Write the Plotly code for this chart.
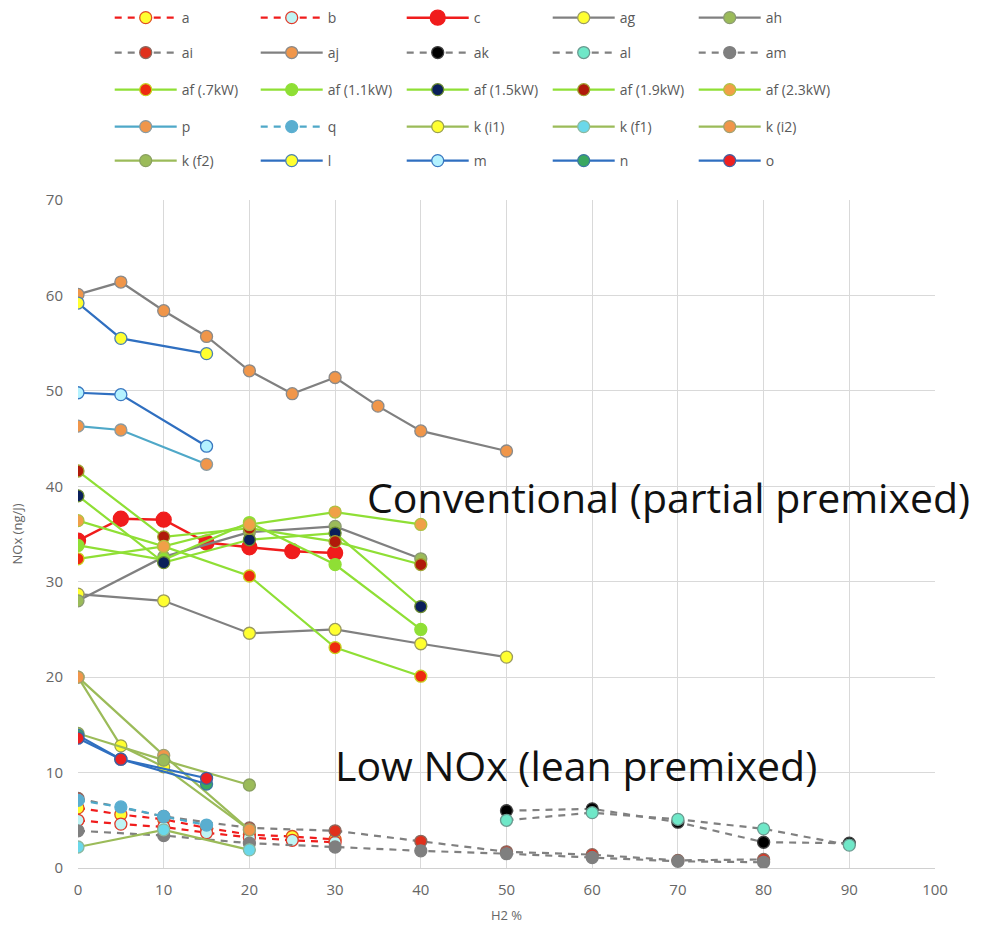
import plotly.graph_objects as go

# ---------------- data ----------------
a_x = [0, 5, 10, 15, 20, 25, 30]
a_y = [6.3, 5.6, 5.1, 4.2, 3.5, 3.3, 3.0]
b_x = [0, 5, 10, 15, 20, 25, 30]
b_y = [5.0, 4.6, 4.3, 3.7, 3.2, 2.9, 2.7]
c_x = [0, 5, 10, 15, 20, 25, 30]
c_y = [34.3, 36.6, 36.5, 34.1, 33.6, 33.2, 33.0]
ag_x = [0, 10, 20, 30, 40, 50]
ag_y = [28.7, 28.0, 24.6, 25.0, 23.5, 22.1]
ah_x = [0, 10, 20, 30, 40]
ah_y = [28.0, 32.6, 35.2, 35.8, 32.4]
ai_x = [0, 10, 20, 30, 40, 50, 60, 70, 80]
ai_y = [7.3, 5.4, 4.2, 3.9, 2.8, 1.7, 1.4, 0.8, 0.9]
aj_x = [0, 5, 10, 15, 20, 25, 30, 35, 40, 50]
aj_y = [60.1, 61.4, 58.4, 55.7, 52.1, 49.7, 51.4, 48.4, 45.8, 43.7]
ak_x = [50, 60, 70, 80, 90]
ak_y = [6.0, 6.2, 4.8, 2.7, 2.6]
al_x = [50, 60, 70, 80, 90]
al_y = [5.0, 5.8, 5.1, 4.1, 2.4]
am_x = [0, 10, 20, 30, 40, 50, 60, 70, 80]
am_y = [3.9, 3.4, 2.6, 2.2, 1.8, 1.5, 1.1, 0.7, 0.6]
af07_x = [0, 10, 20, 30, 40]
af07_y = [32.4, 33.7, 30.6, 23.1, 20.1]
af11_x = [0, 10, 20, 30, 40]
af11_y = [33.8, 32.3, 36.2, 31.8, 25.0]
af15_x = [0, 10, 20, 30, 40]
af15_y = [39.0, 32.0, 34.4, 35.1, 27.4]
af19_x = [0, 10, 20, 30, 40]
af19_y = [41.6, 34.7, 35.6, 34.2, 31.8]
af23_x = [0, 10, 20, 30, 40]
af23_y = [36.4, 33.7, 36.0, 37.3, 36.0]
p_x = [0, 5, 15]
p_y = [46.3, 45.9, 42.3]
q_x = [0, 5, 10, 15]
q_y = [7.1, 6.4, 5.4, 4.5]
ki1_x = [0, 5, 10, 20]
ki1_y = [20.0, 12.8, 10.6, 4.0]
kf1_x = [0, 10, 20]
kf1_y = [2.2, 4.0, 1.9]
ki2_x = [0, 10, 20]
ki2_y = [20.0, 11.8, 4.0]
kf2_x = [0, 10, 20]
kf2_y = [14.1, 11.3, 8.7]
l_x = [0, 5, 15]
l_y = [59.2, 55.5, 53.9]
m_x = [0, 5, 15]
m_y = [49.8, 49.6, 44.2]
n_x = [0, 5, 15]
n_y = [13.9, 11.4, 8.8]
o_x = [0, 5, 15]
o_y = [13.6, 11.4, 9.4]

x_ticks = list(range(0, 101, 10))
y_ticks = list(range(0, 71, 10))

# ---------------- styles ----------------
RED = "#f01c1c"
GRAY = "#808080"
LIME = "#8fdf35"
BLUE = "#2f6fc0"
TEAL = "#4fa8c8"
OLIVE = "#9bbb59"
DASH = "7px,6px"

fig = go.Figure()


def add(name, x, y, line_color, fill, outline, dash="solid", legend="legend",
        size=12, width=2.2):
    fig.add_trace(go.Scatter(
        x=x, y=y, name=name, mode="lines+markers",
        line=dict(color=line_color, width=width, dash=dash),
        marker=dict(size=size, color=fill, line=dict(color=outline, width=1.3)),
        legend=legend,
    ))


# row 1
add("a", a_x, a_y, RED, "#ffff30", "#e05020", DASH, "legend")
add("b", b_x, b_y, RED, "#bff4f4", "#e03a2a", DASH, "legend")
add("c", c_x, c_y, RED, RED, RED, "solid", "legend", size=15, width=2.5)
add("ag", ag_x, ag_y, GRAY, "#ffff30", "#9a9a60", "solid", "legend")
add("ah", ah_x, ah_y, GRAY, OLIVE, "#8a9a70", "solid", "legend")
# row 2
add("ai", ai_x, ai_y, GRAY, "#e0301c", "#8a6a60", DASH, "legend2")
add("aj", aj_x, aj_y, GRAY, "#f0964a", "#8a8a8a", "solid", "legend2")
add("ak", ak_x, ak_y, GRAY, "#000000", "#404040", DASH, "legend2")
add("al", al_x, al_y, GRAY, "#6fe8c8", "#6a9a90", DASH, "legend2")
add("am", am_x, am_y, GRAY, "#7f7f7f", "#7f7f7f", DASH, "legend2")
# row 3
add("af (.7kW)", af07_x, af07_y, LIME, "#ee2a10", "#c8d020", "solid", "legend3")
add("af (1.1kW)", af11_x, af11_y, LIME, LIME, LIME, "solid", "legend3")
add("af (1.5kW)", af15_x, af15_y, LIME, "#0a1f5a", "#6a8a30", "solid", "legend3")
add("af (1.9kW)", af19_x, af19_y, LIME, "#b01a0a", "#a0a030", "solid", "legend3")
add("af (2.3kW)", af23_x, af23_y, LIME, "#f0a048", "#b0c040", "solid", "legend3")
# row 4
add("p", p_x, p_y, TEAL, "#f0964a", "#8a9aa0", "solid", "legend4")
add("q", q_x, q_y, TEAL, "#5aaed0", "#5aaed0", DASH, "legend4")
add("k (i1)", ki1_x, ki1_y, OLIVE, "#ffff30", "#9aa050", "solid", "legend4")
add("k (f1)", kf1_x, kf1_y, OLIVE, "#6ad8ea", "#8ab8a0", "solid", "legend4")
add("k (i2)", ki2_x, ki2_y, OLIVE, "#f0964a", "#a0a070", "solid", "legend4")
# row 5
add("k (f2)", kf2_x, kf2_y, OLIVE, OLIVE, "#8aa060", "solid", "legend5")
add("l", l_x, l_y, BLUE, "#ffff30", "#4a80b0", "solid", "legend5")
add("m", m_x, m_y, BLUE, "#b4f2ff", "#3a78c0", "solid", "legend5")
add("n", n_x, n_y, BLUE, "#3aa860", "#3a78a0", "solid", "legend5")
add("o", o_x, o_y, BLUE, "#ee2020", "#4060a0", "solid", "legend5")

# ---------------- layout ----------------
rows_y = [0.9807, 0.9433, 0.9036, 0.8640, 0.8276]
leg_common = dict(orientation="h", x=0.037, xanchor="left",
                  yref="container", yanchor="middle",
                  entrywidth=69, entrywidthmode="pixels", itemwidth=62,
                  font=dict(family="Open Sans, sans-serif", size=14, color="#595959"),
                  bgcolor="rgba(0,0,0,0)", traceorder="normal",
                  itemclick=False, itemdoubleclick=False)
legends = {}
for i, ry in enumerate(rows_y):
    key = "legend" if i == 0 else f"legend{i + 1}"
    legends[key] = dict(leg_common, y=ry)

fig.update_layout(
    width=984, height=934,
    margin=dict(l=78, r=49, t=200, b=66, autoexpand=False),
    plot_bgcolor="white", paper_bgcolor="white",
    font=dict(family="Open Sans, sans-serif", color="#595959"),
    xaxis=dict(range=[0, 100], tickvals=x_ticks, showgrid=True, automargin=False,
               gridcolor="#d9d9d9", gridwidth=1, zeroline=False,
               showline=True, linecolor="#d0d0d0", linewidth=1,
               ticks="", ticklabelstandoff=8, tickfont=dict(size=15, color="#666666"),
               title=dict(text="H2 %", font=dict(size=13, color="#666666"), standoff=12)),
    yaxis=dict(range=[0, 70], tickvals=y_ticks, showgrid=True, automargin=False,
               gridcolor="#d9d9d9", gridwidth=1, zeroline=False,
               showline=False, ticks="", ticklabelstandoff=14,
               tickfont=dict(size=15, color="#666666"),
               title=dict(text="NOx (ng/J)", font=dict(size=13, color="#666666"), standoff=20)),
    annotations=[
        dict(text="Conventional (partial premixed)", x=33.5, y=38.9, xref="x", yref="y",
             xanchor="left", yanchor="middle", showarrow=False,
             font=dict(family="Open Sans, sans-serif", size=41, color="#111111")),
        dict(text="Low NOx (lean premixed)", x=29.7, y=10.8, xref="x", yref="y",
             xanchor="left", yanchor="middle", showarrow=False,
             font=dict(family="Open Sans, sans-serif", size=41, color="#111111")),
    ],
    **legends,
)

fig.write_html("out.html")
